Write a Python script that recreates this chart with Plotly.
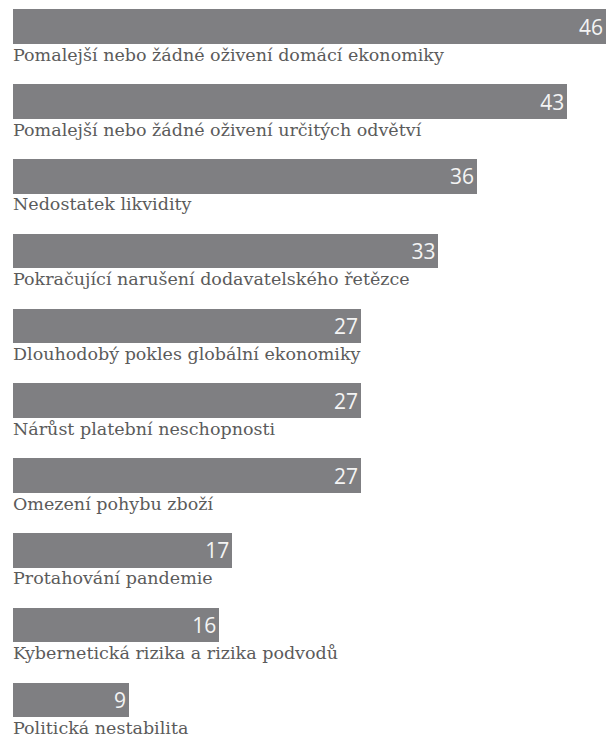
import plotly.graph_objects as go

categories = [
    "Pomalejší nebo žádné oživení domácí ekonomiky",
    "Pomalejší nebo žádné oživení určitých odvětví",
    "Nedostatek likvidity",
    "Pokračující narušení dodavatelského řetězce",
    "Dlouhodobý pokles globální ekonomiky",
    "Nárůst platební neschopnosti",
    "Omezení pohybu zboží",
    "Protahování pandemie",
    "Kybernetická rizika a rizika podvodů",
    "Politická nestabilita",
]
values = [46, 43, 36, 33, 27, 27, 27, 17, 16, 9]

BAR_COLOR = "#7f7f82"
LABEL_COLOR = "#5b5b5b"

fig = go.Figure()
fig.add_trace(go.Bar(
    x=values,
    y=categories,
    orientation="h",
    marker=dict(color=BAR_COLOR, line=dict(width=0)),
    width=0.464,
    text=[str(v) for v in values],
    textposition="inside",
    insidetextanchor="end",
    textfont=dict(family="Open Sans", size=21, color="#f4f4f4"),
    hoverinfo="skip",
))

for c in categories:
    fig.add_annotation(
        x=0, y=c, xref="x", yref="y",
        text=c, showarrow=False,
        xanchor="left", yanchor="top",
        xshift=-2, yshift=-16,
        font=dict(family="DejaVu Serif, serif", size=17.5, color=LABEL_COLOR),
    )

fig.update_layout(
    width=606, height=737,
    margin=dict(l=13, r=0, t=0, b=0),
    paper_bgcolor="white", plot_bgcolor="white",
    showlegend=False,
    bargap=0,
    xaxis=dict(range=[0, 46], visible=False, fixedrange=True),
    yaxis=dict(range=[9.496, -0.357], visible=False, type="category",
               categoryorder="array", categoryarray=categories, fixedrange=True),
    uniformtext=dict(mode=False),
)

fig.write_html(
    "out.html",
    config={"displayModeBar": False, "staticPlot": True},
    post_script="document.body.style.margin='0';document.body.style.overflow='hidden';",
)
